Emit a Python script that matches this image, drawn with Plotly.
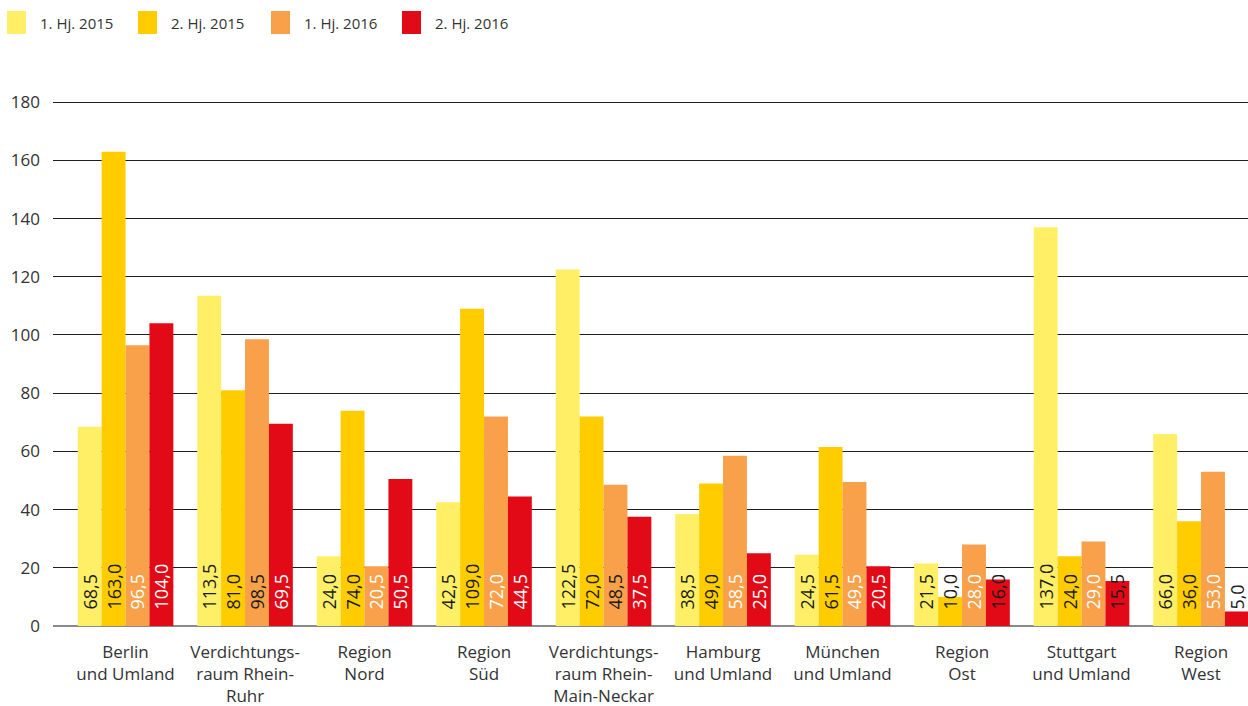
import plotly.graph_objects as go

# Regions (x-axis categories, line breaks as drawn)
regions = [
    "Berlin<br>und Umland",
    "Verdichtungs-<br>raum Rhein-<br>Ruhr",
    "Region<br>Nord",
    "Region<br>Süd",
    "Verdichtungs-<br>raum Rhein-<br>Main-Neckar",
    "Hamburg<br>und Umland",
    "München<br>und Umland",
    "Region<br>Ost",
    "Stuttgart<br>und Umland",
    "Region<br>West",
]

# Half-year series
series_names = ["1. Hj. 2015", "2. Hj. 2015", "1. Hj. 2016", "2. Hj. 2016"]
h1_2015 = [68.5, 113.5, 24.0, 42.5, 122.5, 38.5, 24.5, 21.5, 137.0, 66.0]
h2_2015 = [163.0, 81.0, 74.0, 109.0, 72.0, 49.0, 61.5, 10.0, 24.0, 36.0]
h1_2016 = [96.5, 98.5, 20.5, 72.0, 48.5, 58.5, 49.5, 28.0, 29.0, 53.0]
h2_2016 = [104.0, 69.5, 50.5, 44.5, 37.5, 25.0, 20.5, 16.0, 15.5, 5.0]

y_ticks = [0, 20, 40, 60, 80, 100, 120, 140, 160, 180]

# Styling
bar_colors = ["#FFEF66", "#FFCC00", "#F9A04B", "#E30A17"]
DARK = "#1a1a1a"
LIGHT = "#ffffff"
label_colors = [
    [DARK] * 10,
    [DARK] * 10,
    [LIGHT, DARK, LIGHT, LIGHT, DARK, LIGHT, LIGHT, LIGHT, LIGHT, LIGHT],
    [LIGHT, LIGHT, LIGHT, LIGHT, LIGHT, LIGHT, LIGHT, DARK, DARK, DARK],
]
FONT = "Open Sans, Noto Sans, sans-serif"
TEXT_GREY = "#333333"

all_series = [h1_2015, h2_2015, h1_2016, h2_2016]


def de_fmt(v):
    return f"{v:.1f}".replace(".", ",")


fig = go.Figure()

# Value bars
for name, vals, col, k in zip(series_names, all_series, bar_colors, range(4)):
    fig.add_trace(go.Bar(
        x=regions, y=vals, name=name, offsetgroup=str(k),
        marker=dict(color=col, line=dict(width=0)),
        showlegend=False,
    ))

# Transparent label carriers in the same slots, so every value label
# starts at the same height just above the baseline
LABEL_BASE = 4.6
for vals, cols, k in zip(all_series, label_colors, range(4)):
    fig.add_trace(go.Bar(
        x=regions, y=[20] * len(vals), base=LABEL_BASE, offsetgroup=str(k),
        marker=dict(color="rgba(0,0,0,0)", line=dict(width=0)),
        text=[de_fmt(v) for v in vals],
        textposition="inside", insidetextanchor="start",
        textangle=-90, constraintext="none",
        textfont=dict(family=FONT, size=18, color=cols),
        hoverinfo="skip", showlegend=False,
    ))

# Legend drawn as squares + labels along the top
W, H = 1248, 706
ML, MR, MT, MB = 53, 0, 101, 80
pw, ph = W - ML - MR, H - MT - MB


def px_x(x):
    return (x - ML) / pw


def px_y(y):
    return (H - MB - y) / ph


legend_x = [7, 138, 271, 402]
for name, col, lx in zip(series_names, bar_colors, legend_x):
    fig.add_shape(type="rect", xref="paper", yref="paper",
                  x0=px_x(lx), x1=px_x(lx + 19), y0=px_y(34), y1=px_y(11),
                  fillcolor=col, line=dict(width=0))
    fig.add_annotation(xref="paper", yref="paper", x=px_x(lx + 31), y=px_y(23),
                       text=name, showarrow=False, xanchor="left", yanchor="middle",
                       font=dict(family=FONT, size=15, color=TEXT_GREY))

fig.update_layout(
    width=W, height=H,
    margin=dict(l=ML, r=MR, t=MT, b=MB),
    paper_bgcolor="white", plot_bgcolor="white",
    barmode="group", bargap=0.2, bargroupgap=0,
    showlegend=False,
    font=dict(family=FONT, color=TEXT_GREY),
)
fig.update_xaxes(
    range=[-0.607, 9.393], showgrid=False, showline=False, ticks="",
    tickfont=dict(family=FONT, size=17, color=TEXT_GREY),
    ticklabelstandoff=14,
)
fig.update_yaxes(
    range=[0, 180.4], tickvals=y_ticks, showgrid=True,
    gridcolor="#1e1e1e", gridwidth=1,
    zeroline=True, zerolinecolor="#8a8a8a", zerolinewidth=1.5,
    showline=False, ticks="",
    tickfont=dict(family=FONT, size=17, color=TEXT_GREY),
    ticklabelstandoff=12,
)

fig.write_html("out.html")
